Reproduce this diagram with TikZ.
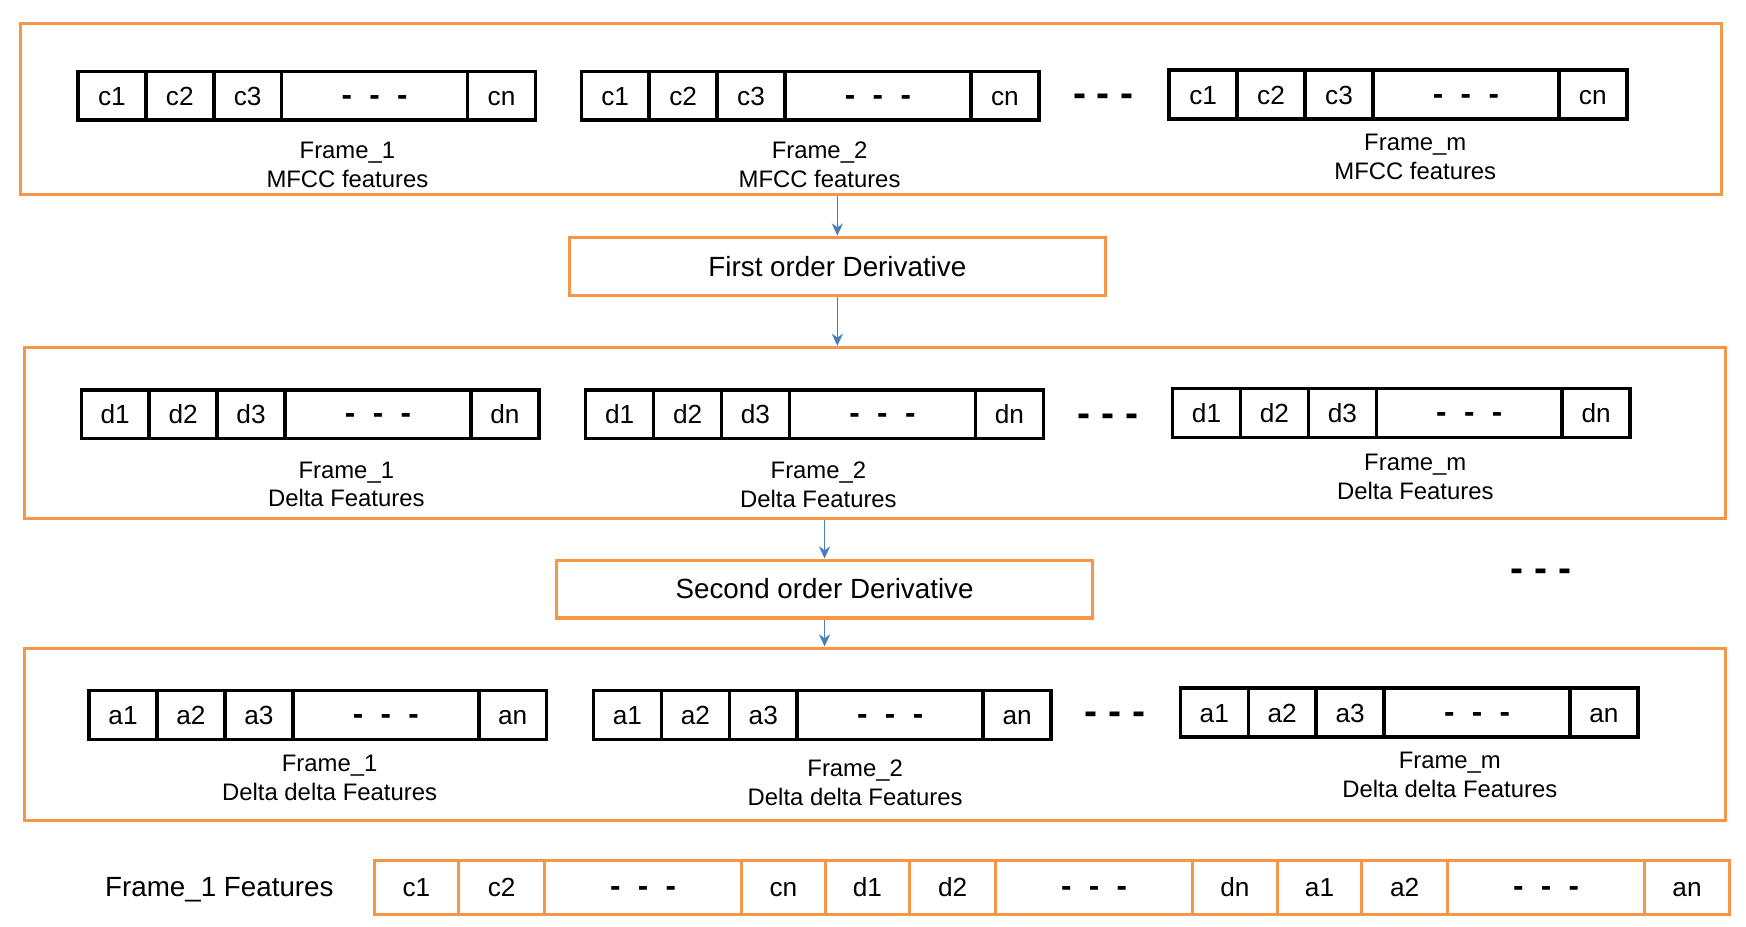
\documentclass[tikz,border=0pt]{standalone}
\usepackage{fontspec}
\setmainfont{Liberation Sans}
\usepackage{tikz}
\usetikzlibrary{arrows.meta,positioning}
\definecolor{boxorange}{RGB}{247,150,70}
\definecolor{linkblue}{RGB}{74,126,187}
\newcommand{\gapmark}{{\fontsize{16}{16}\selectfont\bfseries -~~-~~-}}

\begin{document}
\begin{tikzpicture}[
  x=0.02cm,y=-0.02cm,
  panel/.style={rectangle,draw=boxorange,line width=1.6pt,minimum width=30.56cm,minimum height=3.08cm},
  deriv/.style={rectangle,draw=boxorange,line width=1.6pt,minimum width=9.64cm,minimum height=1.04cm,font=\fontsize{14.2}{17}\selectfont},
  cell/.style={rectangle,draw=black,line width=1.8pt,outer sep=0pt,inner sep=0pt,minimum width=1.22cm,minimum height=0.88cm,text height=9.6pt,text depth=0pt,font=\fontsize{13.4}{16}\selectfont},
  widecell/.style={cell,minimum width=3.34cm},
  caption/.style={align=center,font=\fontsize{12.2}{14.8}\selectfont},
  flat/.style={rectangle,draw=boxorange,line width=1.6pt,outer sep=0pt,inner sep=0pt,minimum height=0.96cm,text height=9.6pt,text depth=0pt,font=\fontsize{13.4}{16}\selectfont},
  dotsgap/.style={font=\fontsize{20}{20}\selectfont\bfseries},
  arrow/.style={-{Stealth[length=2.2mm,width=2mm]},draw=linkblue,line width=0.8pt}
]
\useasboundingbox (0,0) rectangle (1568,832);
% stage panels and derivative steps
\node[panel] (mfcc) at (782,98) {};
\node[panel] (delta) at (786,389) {};
\node[panel,minimum height=3.1cm] (accel) at (786,659.5) {};
\node[deriv] (deriv1) at (752,239) {First order Derivative};
\node[deriv] (deriv2) at (740.5,529) {Second order Derivative};
% feature vectors per frame
\foreach \p/\x/\y/\lx/\ly/\fr/\txt [count=\i] in {
  c/70/64/312/148/1/MFCC features, c/522/64/736/148/2/MFCC features, c/1050/63/1271/141/m/MFCC features,
  d/73/350/311/435/1/Delta Features, d/526/350/735/435/2/Delta Features, d/1053/349/1271/428/m/Delta Features,
  a/80/620/296/699/1/Delta delta Features, a/533/620/768/703/2/Delta delta Features, a/1060/618/1302/696/m/Delta delta Features}
{
  \node[cell,anchor=north west] (\p1-\i) at (\x,\y) {\p1};
  \node[cell,right=0pt of \p1-\i] (\p2-\i) {\p2};
  \node[cell,right=0pt of \p2-\i] (\p3-\i) {\p3};
  \node[widecell,right=0pt of \p3-\i] (\p gap-\i) {\gapmark};
  \node[cell,right=0pt of \p gap-\i] (\p n-\i) {\p n};
  \node[caption] (lab-\i) at (\lx,\ly) {Frame\_\fr\\\txt};
}
\node[dotsgap] (gap-c) at (991,90) {- - -};
\node[dotsgap] (gap-d) at (995,377) {- - -};
\node[dotsgap] (gap-a) at (1001,645) {- - -};
\node[dotsgap] (gap-x) at (1384,517) {- - -};
% arrows
\draw[arrow] (deriv1.north |- mfcc.south) -- (deriv1.north);
\draw[arrow] (deriv1.south) -- (deriv1.south |- delta.north);
\draw[arrow] (deriv2.north |- delta.south) -- (deriv2.north);
\draw[arrow] (deriv2.south) -- (deriv2.south |- accel.north);
% concatenated vector
\node[font=\fontsize{14.2}{17}\selectfont] (allfeat) at (197,799) {Frame\_1 Features};
\foreach \t/\a/\b [count=\k] in {c1/336/412, c2/412/489, \gapmark/489/666, cn/666/741,
  d1/741/817, d2/817/894, \gapmark/894/1071, dn/1071/1147,
  a1/1147/1223, a2/1223/1300, \gapmark/1300/1477, an/1477/1553}
  \node[flat,minimum width={(\b-\a)*0.02cm}] (feat-\k) at ({(\a+\b)/2},797) {\t};
\end{tikzpicture}
\end{document}
